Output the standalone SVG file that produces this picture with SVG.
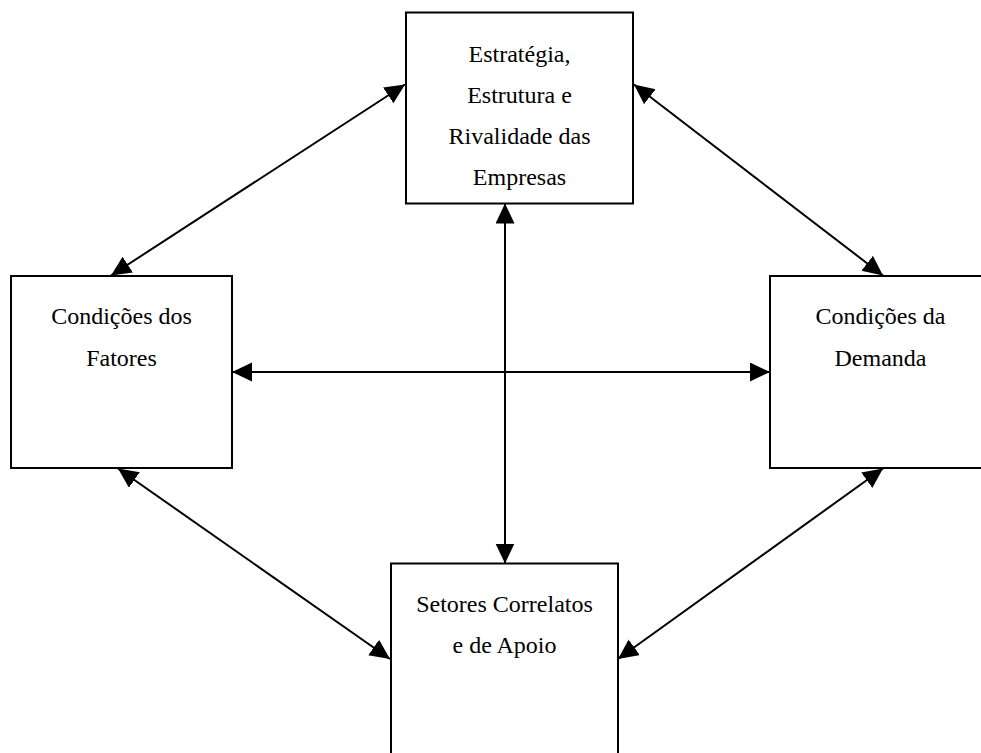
<svg xmlns="http://www.w3.org/2000/svg" width="981" height="753" viewBox="0 0 981 753">
<style>
.box{fill:#fff;stroke:#000;stroke-width:2}
.lbl{font-family:"Liberation Serif","Times New Roman",serif;font-size:24px;fill:#000;text-anchor:middle}
.con{stroke:#000;stroke-width:2;fill:none;marker-start:url(#ah);marker-end:url(#ah)}
</style>
<defs>
<marker id="ah" markerUnits="userSpaceOnUse" markerWidth="22" markerHeight="20" refX="20" refY="9.5" orient="auto-start-reverse">
<path d="M0,0 L20,9.5 L0,19 z" fill="#000"/>
</marker>
</defs>
<rect width="981" height="753" fill="#fff"/>
<g id="n-estrategia">
<rect class="box" x="406" y="12.5" width="227" height="191"/>
<text class="lbl" x="519.5" y="62">Estratégia,</text>
<text class="lbl" x="519.5" y="103">Estrutura e</text>
<text class="lbl" x="519.5" y="144">Rivalidade das</text>
<text class="lbl" x="519.5" y="185">Empresas</text>
</g>
<g id="n-fatores">
<rect class="box" x="11" y="276" width="221" height="192"/>
<text class="lbl" x="121.5" y="324">Condições dos</text>
<text class="lbl" x="121.5" y="366">Fatores</text>
</g>
<g id="n-demanda">
<rect class="box" x="770" y="276" width="221" height="192"/>
<text class="lbl" x="880.5" y="324">Condições da</text>
<text class="lbl" x="880.5" y="366">Demanda</text>
</g>
<g id="n-setores">
<rect class="box" x="391" y="563.5" width="227" height="192"/>
<text class="lbl" x="504.5" y="612">Setores Correlatos</text>
<text class="lbl" x="504.5" y="653">e de Apoio</text>
</g>
<g id="connectors">
<line class="con" x1="405" y1="84.5" x2="111" y2="275.5"/>
<line class="con" x1="634" y1="84.5" x2="883" y2="275.5"/>
<line class="con" x1="505" y1="203.5" x2="505" y2="563.5"/>
<line class="con" x1="232" y1="372" x2="770" y2="372"/>
<line class="con" x1="118" y1="468.5" x2="390" y2="659"/>
<line class="con" x1="883" y1="468.5" x2="618" y2="659"/>
</g>
</svg>
